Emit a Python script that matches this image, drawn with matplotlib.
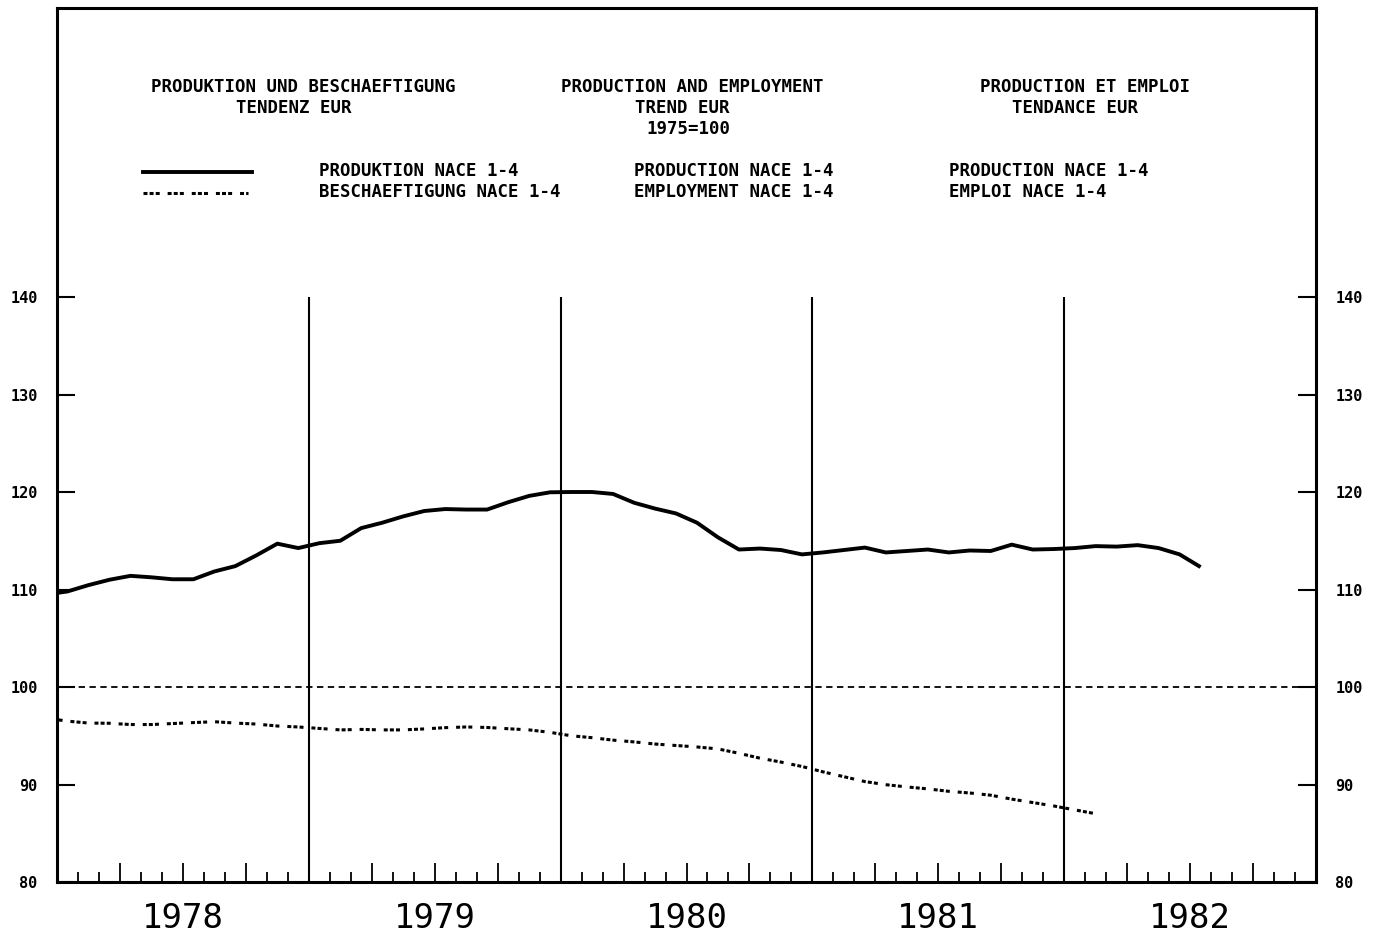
import matplotlib
matplotlib.use("Agg")
import matplotlib.pyplot as plt
from matplotlib.lines import Line2D
import matplotlib.transforms as mtransforms
import numpy as np

#monthly trend values, index 1975=100, first value is Dec 1977
startYear=1977
startMonth=12
production=[109.5,
    109.8,110.45,111.0,111.4,111.25,111.05,111.05,111.85,112.4,113.5,114.7,114.25,
    114.75,115.0,116.3,116.85,117.5,118.05,118.25,118.2,118.2,118.95,119.6,119.97,
    120.0,120.0,119.8,118.9,118.3,117.8,116.85,115.35,114.1,114.2,114.05,113.6,
    113.8,114.05,114.3,113.8,113.95,114.1,113.8,114.0,113.95,114.6,114.1,114.15,
    114.25,114.45,114.4,114.55,114.25,113.6,112.3]
employment=[96.8,
    96.5,96.3,96.28,96.15,96.15,96.25,96.35,96.44,96.3,96.2,96.0,95.9,
    95.75,95.6,95.65,95.6,95.6,95.7,95.83,95.9,95.85,95.72,95.6,95.35,
    95.0,94.8,94.55,94.37,94.15,94.0,93.85,93.65,93.2,92.7,92.3,91.85,
    91.3,90.8,90.3,89.98,89.75,89.55,89.3,89.13,88.9,88.5,88.15,87.8,
    87.4,87.0]

years=[1978,1979,1980,1981,1982]
yTicks=[80,90,100,110,120,130,140]

titleDE=["PRODUKTION UND BESCHAEFTIGUNG","TENDENZ EUR"]
titleEN=["PRODUCTION AND EMPLOYMENT","TREND EUR","1975=100"]
titleFR=["PRODUCTION ET EMPLOI","TENDANCE EUR"]
seriesDE=["PRODUKTION NACE 1-4","BESCHAEFTIGUNG NACE 1-4"]
seriesEN=["PRODUCTION NACE 1-4","EMPLOYMENT NACE 1-4"]
seriesFR=["PRODUCTION NACE 1-4","EMPLOI NACE 1-4"]

W,H=1380,938
monoFont="DejaVu Sans Mono"

def monthPositions(n):
    #plot each monthly value in the middle of its month
    return np.array([startYear+(startMonth-1+i+0.5)/12 for i in range(n)])

def figText(fig,x,y,s,**kw):
    #place text by pixel position on the 1380x938 page
    fig.text(x/W,1-y/H,s,va="center",ha="left",family=monoFont,
             fontweight="bold",fontsize=12.5,**kw)

def figLine(fig,x1,x2,y,**kw):
    fig.add_artist(Line2D([x1/W,x2/W],[1-y/H,1-y/H],color="black",**kw))

fig=plt.figure(figsize=(W/100,H/100),dpi=100)
fig.patch.set_facecolor("white")
ax=fig.add_axes([57/W,56/H,(1316-57)/W,(882-8)/H])

ax.set_xlim(1978,1983)
ax.set_ylim(80,80+874/9.75)

ax.plot(monthPositions(len(production)),production,color="black",lw=2.8,
        solid_joinstyle="round",solid_capstyle="butt")
ax.plot(monthPositions(len(employment)),employment,color="black",lw=2.2,
        dashes=(1.3,0.7,1.3,0.7,1.3,2.6))
ax.axhline(100,color="black",lw=1.3,dashes=(3.5,2.5))
ax.vlines(years[1:],80,140,color="black",lw=1.5)

for side in ax.spines.values():
    side.set_linewidth(2.2)

ax.set_yticks(yTicks)
ax.set_yticklabels([str(v) for v in yTicks],family=monoFont,fontsize=11,
                   fontweight="bold")
ax.tick_params(axis="y",direction="in",length=13,width=1.5,left=True,right=True,
               labelleft=True,labelright=True,pad=14)

quarters=[1978+q/4 for q in range(21)]
months=[1978+m/12 for m in range(61)]
ax.set_xticks(quarters)
ax.set_xticks(months,minor=True)
ax.tick_params(axis="x",which="major",direction="in",length=13.5,width=1.3,
               labelbottom=False)
ax.tick_params(axis="x",which="minor",direction="in",length=7,width=1.3)

#year labels centered under each year
trans=mtransforms.blended_transform_factory(ax.transData,ax.transAxes)
for yr in years:
    ax.text(yr+0.5,-0.042,str(yr),transform=trans,ha="center",va="center",
            family=monoFont,fontsize=24.5)

#header in three languages
figText(fig,151,87,titleDE[0])
figText(fig,236,108,titleDE[1])
figText(fig,561,87,titleEN[0])
figText(fig,635,108,titleEN[1])
figText(fig,646,129,titleEN[2])
figText(fig,980,87,titleFR[0])
figText(fig,1012,108,titleFR[1])

#legend samples and series names
figLine(fig,143,252,172,lw=2.8)
figLine(fig,143,248,193,lw=2.2,dashes=(1.3,0.7,1.3,0.7,1.3,2.6))
figText(fig,319,171,seriesDE[0])
figText(fig,319,192,seriesDE[1])
figText(fig,634,171,seriesEN[0])
figText(fig,634,192,seriesEN[1])
figText(fig,949,171,seriesFR[0])
figText(fig,949,192,seriesFR[1])

fig.savefig("out.png",dpi=100,facecolor="white")
